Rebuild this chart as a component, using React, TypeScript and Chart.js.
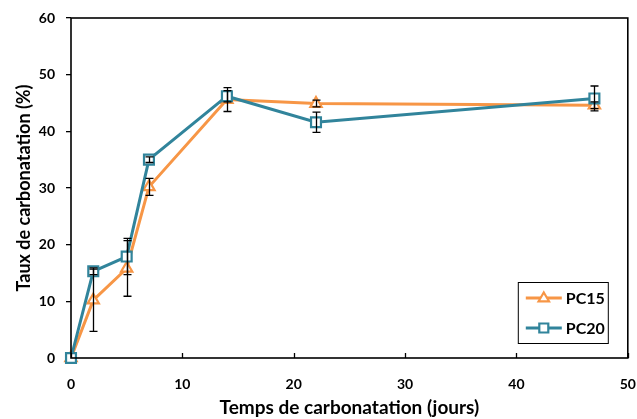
import React, { useEffect, useRef } from "react";
import { Chart, registerables } from "chart.js";

Chart.register(...registerables);

// ---- data ----
const days = [0, 2, 5, 7, 14, 22, 47];
const pc15 = [0, 10.2, 15.8, 30.2, 45.6, 44.9, 44.6];
const pc20 = [0, 15.3, 17.9, 35.0, 46.2, 41.6, 45.8];
const pc15Err = [0, 5.5, 4.9, 1.5, 2.1, 0.6, 0.6];
const pc20Err = [0, 0.6, 3.2, 0.5, 1.0, 1.8, 2.2];
const seriesLabels = ["PC15", "PC20"];
const xTickValues = [0, 10, 20, 30, 40, 50];
const xTitle = "Temps de carbonatation (jours)";
const yTitle = "Taux de carbonatation (%)";

const ORANGE = "#F79646";
const TEAL = "#31849B";
const FONT = "Lato";

const errSets = [pc15Err, pc20Err];

const extrasPlugin = {
  id: "extras",
  afterDatasetsDraw(chart: any) {
    const { ctx, scales } = chart;
    const xs = scales.x;
    const ys = scales.y;
    ctx.save();
    ctx.strokeStyle = "#000";
    ctx.lineWidth = 1.3;
    chart.data.datasets.forEach((ds: any, i: number) => {
      ds.data.forEach((pt: any, j: number) => {
        const e = errSets[i][j];
        if (!e) return;
        const px = Math.round(xs.getPixelForValue(pt.x)) + 0.5;
        const yTop = ys.getPixelForValue(pt.y + e);
        const yBot = ys.getPixelForValue(pt.y - e);
        ctx.beginPath();
        ctx.moveTo(px, yTop);
        ctx.lineTo(px, yBot);
        ctx.moveTo(px - 4, yTop);
        ctx.lineTo(px + 4, yTop);
        ctx.moveTo(px - 4, yBot);
        ctx.lineTo(px + 4, yBot);
        ctx.stroke();
      });
    });
    ctx.restore();
  },
  afterDraw(chart: any) {
    const { ctx, chartArea: a, scales } = chart;
    const xs = scales.x;
    ctx.save();
    // frame
    ctx.strokeStyle = "#000";
    ctx.lineWidth = 1.6;
    ctx.strokeRect(a.left, a.top, a.right - a.left, a.bottom - a.top);
    // inward x ticks
    ctx.lineWidth = 1.3;
    ctx.beginPath();
    xTickValues.forEach((v) => {
      const px = Math.round(xs.getPixelForValue(v)) + 0.5;
      ctx.moveTo(px, a.bottom);
      ctx.lineTo(px, a.bottom - 5);
    });
    ctx.stroke();

    // legend
    const bx = a.right - 110;
    const by = a.bottom - 76;
    const bw = 90;
    const bh = 61;
    ctx.fillStyle = "#fff";
    ctx.fillRect(bx, by, bw, bh);
    ctx.strokeStyle = "#000";
    ctx.lineWidth = 1;
    ctx.strokeRect(bx + 0.5, by + 0.5, bw, bh);
    chart.data.datasets.forEach((ds: any, i: number) => {
      const ly = by + 16 + i * 30;
      const lx0 = bx + 8;
      const lx1 = bx + 44;
      const cx = (lx0 + lx1) / 2;
      ctx.strokeStyle = ds.borderColor;
      ctx.lineWidth = 3;
      ctx.beginPath();
      ctx.moveTo(lx0, ly);
      ctx.lineTo(lx1, ly);
      ctx.stroke();
      ctx.lineWidth = 2.2;
      ctx.fillStyle = "#fff";
      ctx.beginPath();
      if (ds.pointStyle === "triangle") {
        const r = 5.5;
        ctx.moveTo(cx, ly - r);
        ctx.lineTo(cx + r * 0.95, ly + r * 0.6);
        ctx.lineTo(cx - r * 0.95, ly + r * 0.6);
        ctx.closePath();
      } else {
        ctx.rect(cx - 4.5, ly - 4.5, 9, 9);
      }
      ctx.fill();
      ctx.stroke();
      ctx.fillStyle = "#000";
      ctx.font = `bold 16px ${FONT}`;
      ctx.textBaseline = "middle";
      ctx.textAlign = "left";
      ctx.fillText(ds.label, lx1 + 4, ly + 1);
    });
    ctx.restore();
  },
};

export default function App() {
  const ref = useRef<HTMLCanvasElement | null>(null);
  useEffect(() => {
    if (!ref.current) return;
    const chart = new Chart(ref.current, {
      type: "line",
      data: {
        datasets: [
          {
            label: seriesLabels[0],
            data: days.map((d, i) => ({ x: d, y: pc15[i] })),
            borderColor: ORANGE,
            backgroundColor: "#fff",
            borderWidth: 3,
            pointStyle: "triangle",
            pointRadius: 6.5,
            pointBorderWidth: 2.2,
            pointBackgroundColor: "#fff",
            pointBorderColor: ORANGE,
            tension: 0,
            clip: false as any,
            order: 1,
          },
          {
            label: seriesLabels[1],
            data: days.map((d, i) => ({ x: d, y: pc20[i] })),
            borderColor: TEAL,
            backgroundColor: "#fff",
            borderWidth: 3,
            pointStyle: "rect",
            pointRadius: 7,
            pointBorderWidth: 2.2,
            pointBackgroundColor: "#fff",
            pointBorderColor: TEAL,
            tension: 0,
            clip: false as any,
            order: 0,
          },
        ],
      },
      options: {
        responsive: false,
        animation: false,
        layout: { padding: { top: 18, right: 8, left: 0, bottom: 0 } },
        plugins: {
          legend: { display: false },
          tooltip: { enabled: false },
        },
        scales: {
          x: {
            type: "linear",
            min: 0,
            max: 50,
            ticks: {
              stepSize: 10,
              color: "#000",
              padding: 10,
              font: { family: FONT, weight: "bold", size: 14 },
            },
            grid: { display: false },
            border: { display: false },
            title: {
              display: true,
              text: xTitle,
              color: "#000",
              font: { family: FONT, weight: "bold", size: 19 },
              padding: { top: 0, bottom: 0 },
            },
            afterFit: (s: any) => {
              s.height = 61;
              s.paddingLeft = 0;
              s.paddingRight = 0;
            },
          },
          y: {
            type: "linear",
            min: 0,
            max: 60,
            ticks: {
              stepSize: 10,
              color: "#000",
              padding: 11,
              font: { family: FONT, weight: "bold", size: 14 },
            },
            grid: {
              display: true,
              drawOnChartArea: false,
              drawTicks: true,
              tickLength: 5,
              color: "#000",
              lineWidth: 1.3,
            },
            border: { display: false },
            title: {
              display: true,
              text: yTitle,
              color: "#000",
              font: { family: FONT, weight: "bold", size: 18 },
              padding: { top: 13, bottom: 0 },
            },
            afterFit: (s: any) => {
              s.width = 71;
              s.paddingTop = 0;
              s.paddingBottom = 0;
            },
          },
        },
      },
      plugins: [extrasPlugin],
    });
    return () => chart.destroy();
  }, []);
  return (
    <div style={{ position: "absolute", left: 0, top: 0, width: 637, height: 419, background: "#fff" }}>
      <canvas ref={ref} width={637} height={419} style={{ display: "block" }} />
    </div>
  );
}
